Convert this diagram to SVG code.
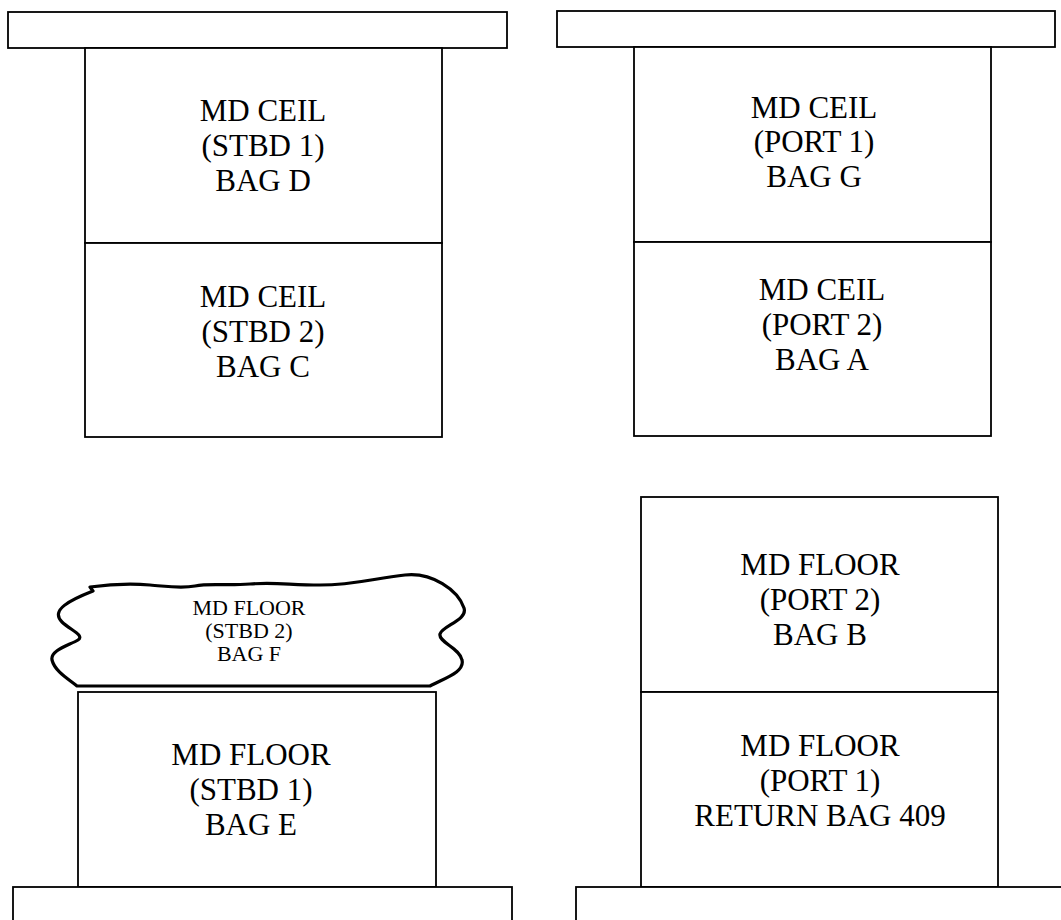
<svg xmlns="http://www.w3.org/2000/svg" width="1061" height="920" viewBox="0 0 1061 920">
<style>
.b{fill:#fff;stroke:#000;stroke-width:1.8}
.w{fill:#fff;stroke:#000;stroke-width:3.2;stroke-linejoin:round}
text{font-family:'Liberation Serif','Times New Roman',Tinos,'DejaVu Serif',serif;fill:#000;text-anchor:middle}
.t{font-size:31px}
.s{font-size:22px}
</style>
<rect width="1061" height="920" fill="#fff"/>
<g id="top-left-bar"><rect class="b" x="8" y="12" width="499" height="36"/></g>
<g id="top-right-bar"><rect class="b" x="557" y="11" width="498" height="36"/></g>
<g id="stbd1-ceil" font-family="Liberation Serif, serif"><rect class="b" x="85" y="48" width="357" height="195"/>
<text class="t" x="263" y="121">MD CEIL</text><text class="t" x="263" y="156">(STBD 1)</text><text class="t" x="263" y="191">BAG D</text></g>
<g id="stbd2-ceil" font-family="Liberation Serif, serif"><rect class="b" x="85" y="243" width="357" height="194"/>
<text class="t" x="263" y="307">MD CEIL</text><text class="t" x="263" y="342">(STBD 2)</text><text class="t" x="263" y="377">BAG C</text></g>
<g id="port1-ceil" font-family="Liberation Serif, serif"><rect class="b" x="634" y="47" width="357" height="195"/>
<text class="t" x="814" y="118">MD CEIL</text><text class="t" x="814" y="152">(PORT 1)</text><text class="t" x="814" y="187">BAG G</text></g>
<g id="port2-ceil" font-family="Liberation Serif, serif"><rect class="b" x="634" y="242" width="357" height="194"/>
<text class="t" x="822" y="300">MD CEIL</text><text class="t" x="822" y="335">(PORT 2)</text><text class="t" x="822" y="370">BAG A</text></g>
<g id="port2-floor" font-family="Liberation Serif, serif"><rect class="b" x="641" y="497" width="357" height="195"/>
<text class="t" x="820" y="575">MD FLOOR</text><text class="t" x="820" y="610">(PORT 2)</text><text class="t" x="820" y="645">BAG B</text></g>
<g id="port1-floor" font-family="Liberation Serif, serif"><rect class="b" x="641" y="692" width="357" height="195"/>
<text class="t" x="820" y="756">MD FLOOR</text><text class="t" x="820" y="791">(PORT 1)</text><text class="t" x="820" y="826">RETURN BAG 409</text></g>
<g id="stbd1-floor" font-family="Liberation Serif, serif"><rect class="b" x="78" y="692" width="358" height="195"/>
<text class="t" x="251" y="765">MD FLOOR</text><text class="t" x="251" y="800">(STBD 1)</text><text class="t" x="251" y="835">BAG E</text></g>
<g id="stbd2-floor" font-family="Liberation Serif, serif"><path class="w" d="M77,686 L430,686 C445,678 465,672 462,660 C460,648 438,642 440,634 C442,626 468,620 464,608 C458,590 432,572 405,575 C375,578 355,585 320,585 C290,585 275,582 250,584 C225,586 210,583 195,586 C180,589 165,586 150,585 C125,583 105,585 90,587 L93,591 C70,600 50,610 62,622 C70,630 85,635 78,640 C70,645 50,650 52,660 C55,672 70,680 77,686 Z"/>
<text class="s" x="249" y="615">MD FLOOR</text><text class="s" x="249" y="638">(STBD 2)</text><text class="s" x="249" y="661">BAG F</text></g>
<g id="bottom-left-bar"><rect class="b" x="13" y="887" width="499" height="50"/></g>
<g id="bottom-right-bar"><rect class="b" x="576" y="887" width="500" height="50"/></g>
<g id="connectors"></g>
</svg>
